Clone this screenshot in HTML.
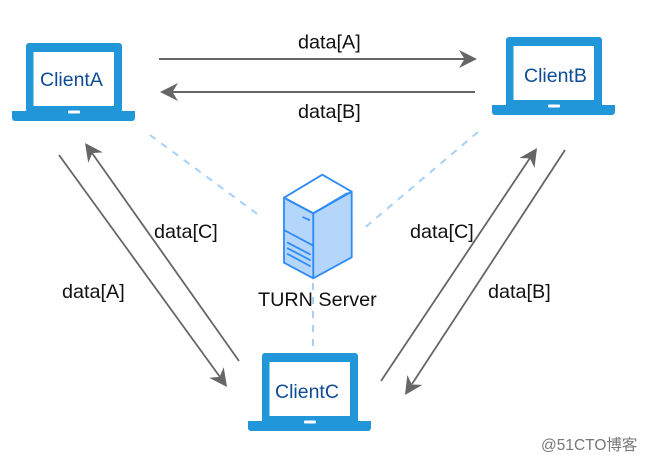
<!DOCTYPE html>
<html><head><meta charset="utf-8"><style>
html,body{margin:0;padding:0;background:#fff}
svg{display:block}
text{font-family:"Liberation Sans","Noto Sans CJK SC",sans-serif}
</style></head><body>
<svg width="648" height="462" viewBox="0 0 648 462" xmlns="http://www.w3.org/2000/svg">
<defs>
<g id="lap">
<path d="M26 46a3 3 0 0 1 3-3h90a3 3 0 0 1 3 3v65h13v7a3 3 0 0 1-3 3H15a3 3 0 0 1-3-3v-7h14z" fill="#2196d9"/>
<rect x="33.5" y="52" width="80.5" height="54" fill="#fff"/>
<rect x="68" y="110.5" width="12" height="3" rx="1" fill="#fff"/>
</g>
<g id="h"><path d="M0 0L-18 -9L-12.500 0L-18 9z" fill="#666"/></g>
</defs>
<g stroke="#a6d1fb" stroke-width="2" stroke-dasharray="7 7" fill="none">
<path d="M150 135L260 216"/>
<path d="M478 132L362 230"/>
<path d="M313 283V353"/>
</g>
<use href="#lap"/>
<use href="#lap" x="480" y="-6"/>
<use href="#lap" x="236" y="310"/>
<g font-size="19.500" fill="#0f4c96" >
<text x="40" y="86">ClientA</text>
<text x="524" y="82">ClientB</text>
<text x="275" y="398">ClientC</text>
</g>
<g stroke="#666" fill="none">
<path d="M159 59H465" stroke-width="2"/><path d="M475 92H172" stroke-width="2"/>
<g stroke-width="1.800">
<path d="M59 155L220 377"/><path d="M239 361L92 153"/>
<path d="M381 381L530 158"/><path d="M565 150L412 384"/>
</g>
</g>
<use href="#h" transform="translate(477 59)"/>
<use href="#h" transform="translate(160 92) rotate(180)"/>
<use href="#h" transform="translate(227 387) rotate(54)"/>
<use href="#h" transform="translate(85 143) rotate(234.200)"/>
<use href="#h" transform="translate(537 148) rotate(-56.200)"/>
<use href="#h" transform="translate(405 395) rotate(123.200)"/>
<g stroke="#2f8cf5" stroke-width="1.800" stroke-linejoin="round" stroke-linecap="round">
<path d="M284 197.700L322.300 174.700L351.700 191.700L313.300 213.300z" fill="#fff"/>
<path d="M284 197.700L313.300 213.300V278.300L284 262.700z" fill="#b5d6fb"/>
<path d="M313.300 213.300L351.700 191.700V257.300L313.300 278.300z" fill="#b5d6fb"/>
<path d="M284 230L313.300 245.700M287.700 242.700L310 254.300M287.700 248.300L310 260M287.700 254L310 266M303.300 217.300L309.300 220M287.700 200L313.300 213.300L347 193.300" fill="none"/>
</g>
<g font-size="19.800" fill="#111">
<text x="298" y="48.500">data[A]</text>
<text x="298" y="118">data[B]</text>
<text x="154" y="238">data[C]</text>
<text x="62" y="298">data[A]</text>
<text x="410" y="238">data[C]</text>
<text x="488" y="298">data[B]</text>
<text x="258" y="306">TURN Server</text>
</g>
<text x="541" y="450" font-size="15.500" fill="#777">@51CTO博客</text>
</svg>
</body></html>
